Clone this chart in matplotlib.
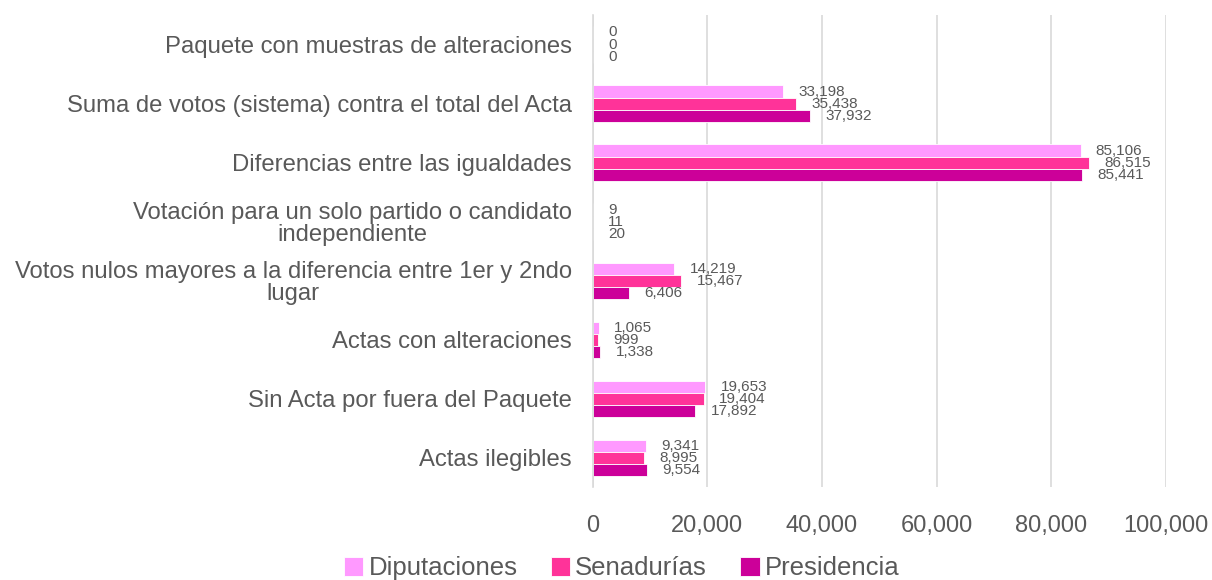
import matplotlib.pyplot as plt
import numpy as np
from matplotlib.ticker import FuncFormatter

plt.rcParams['font.family'] = ['Liberation Sans', 'DejaVu Sans']

categories = [
    "Paquete con muestras de alteraciones",
    "Suma de votos (sistema) contra el total del Acta",
    "Diferencias entre las igualdades",
    "Votación para un solo partido o candidato\nindependiente",
    "Votos nulos mayores a la diferencia entre 1er y 2ndo\nlugar",
    "Actas con alteraciones",
    "Sin Acta por fuera del Paquete",
    "Actas ilegibles",
]
series_names = ["Diputaciones", "Senadurías", "Presidencia"]
diputaciones = [0, 33198, 85106, 9, 14219, 1065, 19653, 9341]
senadurias = [0, 35438, 86515, 11, 15467, 999, 19404, 8995]
presidencia = [0, 37932, 85441, 20, 6406, 1338, 17892, 9554]
colors = ["#FF99FF", "#FF3399", "#CC0099"]

text_color = "#595959"
grid_color = "#D9D9D9"

fig = plt.figure(figsize=(12.12, 5.8), dpi=100)
ax = fig.add_axes([0.489, 0.160, 0.473, 0.814])

y = np.arange(len(categories))
h = 0.205
all_series = [diputaciones, senadurias, presidencia]
for i, (name, vals, c) in enumerate(zip(series_names, all_series, colors)):
    pos = y + (i - 1) * h
    ax.barh(pos, vals, height=h, color=c, edgecolor="white", linewidth=0.6, label=name, zorder=2)
    # value labels just past the bar end
    for p, v in zip(pos, vals):
        ax.annotate(f"{v:,}", (v, p), xytext=(11, 0), textcoords="offset points",
                    ha="left", va="center", fontsize=11, color=text_color, zorder=3)

ax.set_xlim(0, 100000)
ax.set_ylim(len(categories) - 0.5, -0.5)
ax.set_xticks(np.arange(0, 100001, 20000))
ax.xaxis.set_major_formatter(FuncFormatter(lambda v, _: f"{int(v):,}"))
ax.set_yticks(y)
ax.set_yticklabels(categories, multialignment="center", linespacing=1.0)
ax.grid(axis="x", color=grid_color, linewidth=1.2, zorder=0)
ax.set_axisbelow(True)
for s in ["top", "right", "bottom"]:
    ax.spines[s].set_visible(False)
ax.spines["left"].set_color(grid_color)
ax.spines["left"].set_linewidth(1.2)
ax.tick_params(axis="both", length=0, colors=text_color)
ax.tick_params(axis="y", labelsize=17.2, pad=15)
ax.tick_params(axis="x", labelsize=17, pad=20)

fig.legend(loc="lower center", bbox_to_anchor=(0.513, -0.04), ncol=3, frameon=False,
           fontsize=18.5, handlelength=0.75, handleheight=0.75, handletextpad=0.2,
           columnspacing=1.3, labelcolor=text_color)

fig.savefig("out.png", dpi=100)
